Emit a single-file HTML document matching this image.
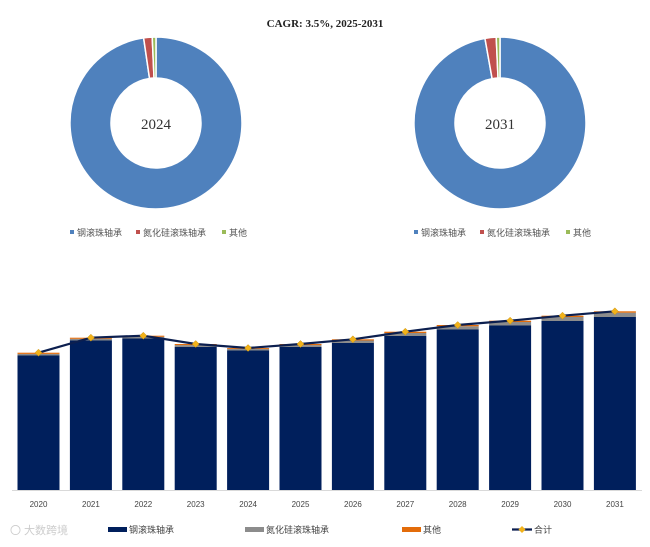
<!DOCTYPE html>
<html><head><meta charset="utf-8"><style>
body{margin:0;background:#fff;width:650px;height:542px;overflow:hidden;font-family:"Liberation Sans","Noto Sans CJK SC",sans-serif}
</style></head><body>
<svg id="c" width="650" height="542" xmlns="http://www.w3.org/2000/svg">
<text x="325" y="27" text-anchor="middle" font-family="Liberation Serif,serif" font-size="11" font-weight="bold" fill="#222">CAGR: 3.5%, 2025-2031</text>
</svg>
<script>
const donutYears=["2024","2031"];
const shares2024=[97.7,1.6,0.7];
const shares2031=[97.2,2.1,0.7];
const segNames=["钢滚珠轴承","氮化硅滚珠轴承","其他"];
const years=["2020","2021","2022","2023","2024","2025","2026","2027","2028","2029","2030","2031"];
const steel=[134.5,149.5,151.5,143,139.5,143,147,154,160.5,164.5,169,173];
const nitride=[1.6,1.7,1.7,1.9,1.6,1.9,2.5,3.0,3.2,3.5,4.0,4.3];
const other=[1.2,1.1,1.1,1.1,0.9,1.1,1.2,1.3,1.3,1.3,1.3,1.4];
const NS="http://www.w3.org/2000/svg";
const svg=document.getElementById('c');
function mk(t,a){const e=document.createElementNS(NS,t);for(const k in a)e.setAttribute(k,a[k]);svg.appendChild(e);return e;}
const donutCols=["#4f81bd","#c0504d","#9bbb59"];
function donut(cx,cy,R,r,shares,label){
  let a0=0;const tot=shares.reduce((s,v)=>s+v,0);
  shares.forEach((v,i)=>{
    const a1=a0+v/tot*2*Math.PI;
    const p=(a,rr)=>[cx+rr*Math.sin(a),cy-rr*Math.cos(a)];
    const [x1,y1]=p(a0,R),[x2,y2]=p(a1,R),[x3,y3]=p(a1,r),[x4,y4]=p(a0,r);
    const lg=(a1-a0)>Math.PI?1:0;
    const e=mk('path',{d:`M${x1},${y1}A${R},${R} 0 ${lg} 1 ${x2},${y2}L${x3},${y3}A${r},${r} 0 ${lg} 0 ${x4},${y4}Z`,fill:donutCols[i],stroke:'#fff','stroke-width':1.5});
    
    
    a0=a1;
  });
  const t=mk('text',{x:cx,y:cy+6,'text-anchor':'middle','font-family':'Liberation Serif,serif','font-size':15,fill:'#333'});
  t.textContent=label;
  
  
  const offs=[0,66,152];
  segNames.forEach((n,i)=>{
    const m=mk('rect',{x:cx-86+offs[i],y:230,width:4,height:4,fill:donutCols[i]});
    
    
    const tx=mk('text',{x:cx-79+offs[i],y:236,'font-size':9,fill:'#555'});
    tx.textContent=n;
    
    
  });
}
donut(156,123,86,45,shares2024,donutYears[0]);
donut(500,123,86,45,shares2031,donutYears[1]);
// bar chart
const base=490,x0=17.5,pitch=52.4,bw=42,ys=1.0;
const X=i=>x0+i*pitch;
const Y=v=>base-v*ys;
const ax=mk('line',{x1:12,y1:base+0.5,x2:642,y2:base+0.5,stroke:'#d9d9d9','stroke-width':1});


const pts=[];
years.forEach((yr,i)=>{
  const segs=[[steel[i],'#001f5c','bar-steel'],[nitride[i],'#8c8c8c','bar-nitride'],[other[i],'#e36c0a','bar-other']];
  let acc=0;
  segs.forEach(([v,c,n])=>{
    const r=mk('rect',{x:X(i),y:Y(acc+v),width:bw,height:v*ys,fill:c});
    
    
    acc+=v;
  });
  pts.push([X(i)+bw/2,Y(acc)]);
  const t=mk('text',{x:X(i)+bw/2,y:507,'text-anchor':'middle','font-size':8,fill:'#444'});
  t.textContent=yr;
  
  
});
const ln=mk('polyline',{points:pts.map(p=>p.join(',')).join(' '),fill:'none',stroke:'#0c1f4f','stroke-width':2.2});


pts.forEach(([x,y])=>{
  const d=mk('path',{d:`M${x},${y-3.5}L${x+3.5},${y}L${x},${y+3.5}L${x-3.5},${y}Z`,fill:'#f2b21a',stroke:'#c9920c','stroke-width':0.5});
  
  
});
// bottom legend
const lg=[[108,'#001f5c','钢滚珠轴承'],[245,'#8c8c8c','氮化硅滚珠轴承'],[402,'#e36c0a','其他']];
lg.forEach(([x,c,n])=>{
  const r=mk('rect',{x:x,y:527,width:19,height:5,fill:c});
  
  
  const t=mk('text',{x:x+21,y:533,'font-size':9,fill:'#444'});
  t.textContent=n;
  
  
});
const ll=mk('line',{x1:512,y1:529.5,x2:532,y2:529.5,stroke:'#0c1f4f','stroke-width':2.2});


const ld=mk('path',{d:'M522,526L525.5,529.5L522,533L518.5,529.5Z',fill:'#f2b21a'});


const lt=mk('text',{x:534,y:533,'font-size':9,fill:'#444'});
lt.textContent='合计';


const wm=mk('text',{x:10,y:534,'font-size':11,fill:'#ccc'});
wm.textContent='〇 大数跨境';


</script>
</body></html>
